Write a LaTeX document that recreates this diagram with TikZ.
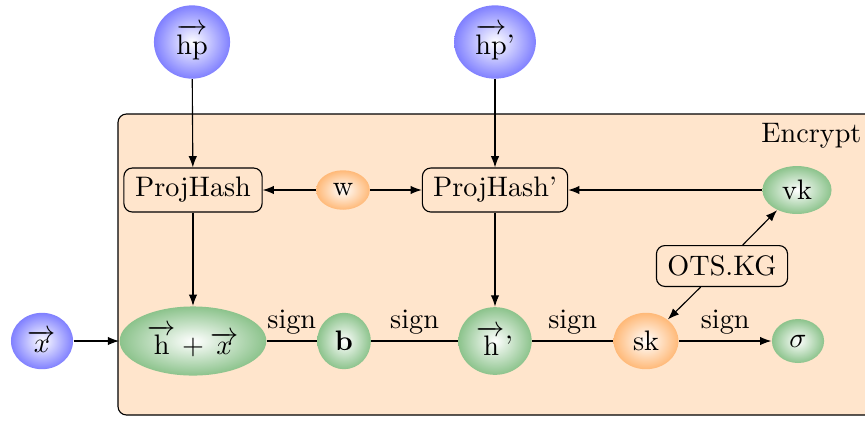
\documentclass[tikz,border=0pt]{standalone}
\usetikzlibrary{shapes.geometric,arrows.meta}
\usepackage{amsmath}
\definecolor{gfill}{RGB}{140,195,140}
\definecolor{bfill}{RGB}{128,128,255}
\definecolor{ofill}{RGB}{255,185,120}
\begin{document}
\begin{tikzpicture}[x=0.3546pt,y=-0.3546pt,
  every node/.style={inner sep=0pt},
  ball/.style={ellipse, shading=radial, inner color=white},
  bluenode/.style={ball, outer color=bfill},
  greennode/.style={ball, outer color=gfill},
  orangenode/.style={ball, outer color=ofill},
  algbox/.style={draw, rounded corners=3pt, inner sep=2.5pt, minimum height=15.6pt},
  arr/.style={-{Latex[length=4pt,width=3pt]}, line width=0.4pt},
  lin/.style={line width=0.4pt},
  lab/.style={above, inner sep=2pt}
]
\useasboundingbox (0,0) rectangle (865,421);
\draw[fill=orange!20, rounded corners=3pt, line width=0.4pt] (118,114) rectangle (880,415);
\node[anchor=east] (enc) at (862,136) {Encrypt};

\node[bluenode, minimum width=27pt, minimum height=26pt] (hp) at (192,42) {$\overrightarrow{\text{hp}}$};
\node[bluenode, minimum width=29pt, minimum height=26pt] (hpp) at (495,42) {$\overrightarrow{\text{hp}}$’};

\node[algbox, minimum width=49pt] (ph) at (193,190) {ProjHash};
\node[orangenode, minimum width=19pt, minimum height=14pt] (w) at (343,190) {w};
\node[algbox, minimum width=51.5pt] (php) at (495,190) {ProjHash’};
\node[greennode, minimum width=24.5pt, minimum height=17pt] (vk) at (797,190) {vk};
\node[algbox, minimum width=46.5pt, minimum height=14.5pt] (ots) at (722,266) {OTS.KG};

\node[bluenode, minimum width=22pt, minimum height=20pt] (x) at (42,341) {$\overrightarrow{x}$};
\node[greennode, minimum width=52pt, minimum height=24.5pt] (hx) at (193,341) {$\overrightarrow{\text{h}}+\overrightarrow{x}$};
\node[greennode, minimum width=19pt, minimum height=20pt] (b) at (344,341) {$\mathbf{b}$};
\node[greennode, minimum width=26pt, minimum height=24pt] (hp2) at (495,341) {$\overrightarrow{\text{h}}$’};
\node[orangenode, minimum width=23pt, minimum height=20pt] (sk) at (646,341) {sk};
\node[greennode, minimum width=18.5pt, minimum height=15.6pt] (sig) at (798,341) {$\sigma$};

\draw[arr] (hp) -- (ph);
\draw[arr] (hpp) -- (php);
\draw[arr] (w) -- (ph);
\draw[arr] (w) -- (php);
\draw[arr] (vk) -- (php);
\draw[arr] (ph) -- (hx);
\draw[arr] (php) -- (hp2);
\draw[arr] (x) -- (hx);
\draw[arr] (ots) -- (vk);
\draw[arr] (ots) -- (sk);
\draw[lin] (hx) -- node[lab] {sign} (b);
\draw[lin] (b) -- node[lab] {sign} (hp2);
\draw[lin] (hp2) -- node[lab] {sign} (sk);
\draw[arr] (sk) -- node[lab] {sign} (sig);
\end{tikzpicture}
\end{document}
